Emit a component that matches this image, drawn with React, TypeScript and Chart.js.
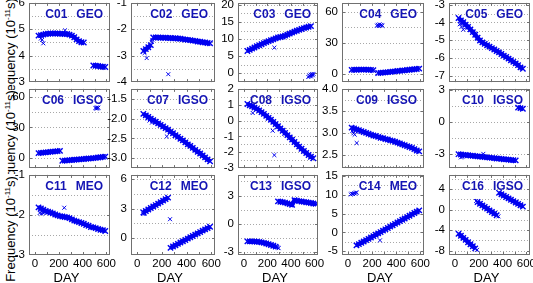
import React, { useEffect, useRef } from "react";
import { Chart, registerables } from "chart.js";
Chart.register(...registerables);

// ---------- data ----------
const DAYS = [10, 30, 50, 70, 90, 110, 130, 150,
  170, 190, 210, 230, 250, 270, 290, 310,
  330, 350, 370, 390, 410, 430, 450, 470,
  490, 510, 530, 550, 570, 590, 610, 630];

const X_TICKS = ["0", "200", "400", "600"];

const C01 = [null, 4.76, 4.78, 4.8, 4.82, 4.83, 4.84, 4.84,
  4.84, 4.84, 4.83, 4.83, 4.82, 4.82, 4.8, 4.76,
  4.7, 4.62, 4.55, 4.51, 4.5, null, null, null,
  3.63, 3.62, 3.61, 3.59, 3.58, 3.57, null, null];
const C02 = [null, null, -2.82, -2.75, -2.68, -2.6, -2.31, -2.31,
  -2.31, -2.32, -2.32, -2.32, -2.33, -2.33, -2.34, -2.34,
  -2.35, -2.36, -2.37, -2.39, -2.4, -2.41, -2.43, -2.44,
  -2.46, -2.47, -2.49, -2.5, -2.52, -2.53, null, null];
const C03 = [null, 6.5, 6.85, 7.2, 7.55, 7.9, 8.2, 8.5,
  8.8, 9.1, 9.4, 9.65, 9.9, 10.2, 10.45, 10.6,
  10.75, 11.0, 11.3, 11.6, 11.9, 12.2, 12.45, 12.7,
  12.95, 13.2, 13.4, 13.6, 13.8, null, null, null];
const C04 = [null, 4.2, 4.3, 4.3, 4.4, 4.4, 4.4, 4.4,
  4.3, 4.2, 4.0, null, 1.2, 1.4, 1.6, 1.8,
  2.0, 2.3, 2.6, 2.8, 3.1, 3.3, 3.6, 3.8,
  4.1, 4.3, 4.6, 4.8, 5.1, 5.4, null, null];
const C05 = [null, -3.75, -3.88, -3.99, -4.12, -4.25, -4.39, -4.54,
  -4.69, -4.86, -5.01, -5.12, -5.2, -5.28, -5.36, -5.44,
  -5.52, -5.6, -5.68, -5.77, -5.86, -5.94, -6.03, -6.12,
  -6.21, -6.3, -6.4, -6.52, -6.6, null, null, null];
const C06 = [null, 4.8, 5.0, 5.2, 5.5, 5.7, 6.0, 6.2,
  6.5, 6.7, 7.0, -2.8, -2.6, -2.4, -2.2, -2.0,
  -1.8, -1.6, -1.4, -1.2, -1.0, -0.8, -0.6, -0.4,
  -0.2, 0.1, 0.4, 0.7, 1.0, 1.3, null, null];
const C07 = [null, null, -1.88, -1.92, -1.96, -2.0, -2.04, -2.08,
  -2.12, -2.16, -2.2, -2.24, -2.28, -2.33, -2.37, -2.42,
  -2.46, -2.51, -2.55, -2.6, -2.65, -2.69, -2.74, -2.79,
  -2.84, -2.88, -2.93, -2.98, -3.03, -3.08, null, null];
const C08 = [null, 1.05, 0.97, 0.9, 0.82, 0.74, 0.64, 0.53,
  0.42, 0.3, 0.17, 0.05, -0.08, -0.22, -0.36, -0.5,
  -0.64, -0.78, -0.92, -1.06, -1.2, -1.35, -1.5, -1.64,
  -1.78, -1.92, -2.05, -2.17, -2.28, -2.38, null, null];
const C09 = [null, 3.12, 3.1, 3.08, 3.06, 3.04, 3.02, 3.0,
  2.98, 2.96, 2.94, 2.93, 2.91, 2.89, 2.88, 2.86,
  2.85, 2.83, 2.82, 2.8, 2.78, 2.76, 2.74, 2.72,
  2.7, 2.68, 2.66, 2.63, 2.6, 2.58, null, null];
const C10 = [null, -3.0, -3.03, -3.06, -3.08, -3.1, -3.13, -3.15,
  -3.18, -3.2, -3.22, -3.25, -3.27, -3.3, -3.32, -3.35,
  -3.37, -3.4, -3.42, -3.44, -3.47, -3.49, -3.51, -3.54,
  -3.56, -3.58, 1.35, 1.3, 1.25, null, null, null];
const C11 = [null, -1.81, -1.84, -1.87, -1.9, -1.92, -1.94, -1.96,
  -1.99, -2.01, -2.03, -2.04, -2.05, -2.06, -2.08, -2.11,
  -2.14, -2.16, -2.18, -2.2, -2.22, -2.25, -2.27, -2.3,
  -2.31, -2.33, -2.35, -2.37, -2.38, -2.4, null, null];
const C12 = [null, null, 2.6, 2.75, 2.9, 3.05, 3.2, 3.35,
  3.5, 3.65, 3.8, 3.95, 4.1, -0.98, -0.84, -0.71,
  -0.58, -0.44, -0.31, -0.18, -0.04, 0.09, 0.22, 0.36,
  0.49, 0.62, 0.76, 0.89, 1.02, 1.16, null, null];
const C13 = [null, -1.9, -1.9, -1.9, -1.91, -1.93, -1.95, -2.0,
  -2.06, -2.12, -2.2, -2.28, -2.36, -2.45, 2.38, 2.34,
  2.3, 2.24, 2.16, 2.08, 2.0, 2.5, 2.45, 2.4,
  2.36, 2.32, 2.28, 2.24, 2.2, 2.15, 2.12, null];
const C14 = [null, null, null, -3.45, -3.1, -2.75, -2.4, -2.05,
  -1.7, -1.35, -0.98, -0.62, -0.26, 0.1, 0.47, 0.83,
  1.19, 1.55, 1.91, 2.27, 2.63, 3.0, 3.36, 3.72,
  4.08, 4.44, 4.8, 5.16, 5.52, 5.88, null, null];
const C16 = [null, -4.7, -5.1, -5.5, -5.9, -6.35, -6.75, -7.15,
  -7.55, 1.5, 1.17, 0.85, 0.53, 0.2, -0.12, -0.44,
  -0.76, -1.08, 3.3, 3.03, 2.76, 2.49, 2.22, 1.95,
  1.68, 1.41, 1.14, 0.87, 0.6, null, null, null];

// scattered points (outliers / small clusters)
const C01_OD = [50, 60, 70, 252];
const C01_OV = [4.65, 4.6, 4.47, 4.96];
const C02_OD = [60, 77, 118, 122, 252];
const C02_OV = [-2.9, -3.09, -2.48, -2.4, -3.7];
const C03_OD = [259, 548, 556, 562, 568, 574, 580, 586, 592];
const C03_OV = [7.5, -1.1, -0.7, -0.9, -0.4, -0.8, -0.3, -0.6, -0.2];
const C04_OD = [240, 248, 255, 262, 270, 278, 285];
const C04_OV = [46.6, 47.4, 46.2, 47.8, 46.9, 47.3, 46.5];
const C05_OD = [40, 55, 70];
const C05_OV = [-4.1, -4.25, -4.4];
const C06_OD = [508, 514, 520, 526, 532];
const C06_OV = [49.3, 48.6, 49.8, 48.9, 49.5];
const C07_OD = [85, 100, 120, 240];
const C07_OV = [-2.0, -2.05, -2.1, -2.45];
const C08_OD = [75, 245, 259];
const C08_OV = [0.48, -0.64, -2.18];
const C09_OD = [35, 45, 55, 72];
const C09_OV = [3.04, 2.99, 2.96, 2.77];
const C10_OD = [50, 62, 238];
const C10_OV = [-3.3, -3.25, -2.97];
const C11_OD = [40, 55, 70, 246];
const C11_OV = [-1.95, -1.97, -1.95, -1.82];
const C12_OD = [50, 62, 266];
const C12_OV = [2.45, 2.5, 1.92];
const C13_OD = [280, 288, 295];
const C13_OV = [-2.5, -2.56, -2.62];
const C14_OD = [22, 32, 42, 52, 62, 72, 265];
const C14_OV = [10.1, 10.3, 10.2, 10.4, 10.5, 10.6, -2.1];
const C16_OD = [178, 185, 365];
const C16_OV = [1.7, -7.85, -1.3];

// y tick labels
const C01_Y = ["3", "4", "5", "6"];
const C02_Y = ["-4", "-3", "-2", "-1"];
const C03_Y = ["0", "5", "10", "15", "20"];
const C04_Y = ["0", "30", "60"];
const C05_Y = ["-7", "-6", "-5", "-4", "-3"];
const C06_Y = ["0", "30", "60"];
const C07_Y = ["-3.0", "-2.5", "-2.0", "-1.5"];
const C08_Y = ["-3", "-2", "-1", "0", "1", "2"];
const C09_Y = ["2.5", "3.0", "3.5", "4.0"];
const C10_Y = ["-3", "0", "3"];
const C11_Y = ["-3", "-2", "-1"];
const C12_Y = ["0", "3", "6"];
const C13_Y = ["-3", "0", "3"];
const C14_Y = ["-5", "0", "5", "10", "15"];
const C16_Y = ["-8", "-4", "0", "4"];

// ---------- layout / style ----------
type PanelDef = {
  name: string; kind: string; vals: (number | null)[];
  od: number[]; ov: number[]; yMin: number; yMax: number; yl: string[]; grid: number;
};

const PANELS: PanelDef[] = [
  { name: "C01", kind: "GEO", vals: C01, od: C01_OD, ov: C01_OV, yMin: 3, yMax: 6, yl: C01_Y, grid: 0.5 },
  { name: "C02", kind: "GEO", vals: C02, od: C02_OD, ov: C02_OV, yMin: -4, yMax: -1, yl: C02_Y, grid: 0.5 },
  { name: "C03", kind: "GEO", vals: C03, od: C03_OD, ov: C03_OV, yMin: -2.6, yMax: 20.6, yl: C03_Y, grid: 2.5 },
  { name: "C04", kind: "GEO", vals: C04, od: C04_OD, ov: C04_OV, yMin: -7.5, yMax: 68.4, yl: C04_Y, grid: 15 },
  { name: "C05", kind: "GEO", vals: C05, od: C05_OD, ov: C05_OV, yMin: -7.35, yMax: -2.9, yl: C05_Y, grid: 0.5 },
  { name: "C06", kind: "IGSO", vals: C06, od: C06_OD, ov: C06_OV, yMin: -10, yMax: 68, yl: C06_Y, grid: 15 },
  { name: "C07", kind: "IGSO", vals: C07, od: C07_OD, ov: C07_OV, yMin: -3.25, yMax: -1.25, yl: C07_Y, grid: 0.25 },
  { name: "C08", kind: "IGSO", vals: C08, od: C08_OD, ov: C08_OV, yMin: -3, yMax: 2, yl: C08_Y, grid: 0.5 },
  { name: "C09", kind: "IGSO", vals: C09, od: C09_OD, ov: C09_OV, yMin: 2.2, yMax: 4.0, yl: C09_Y, grid: 0.25 },
  { name: "C10", kind: "IGSO", vals: C10, od: C10_OD, ov: C10_OV, yMin: -4.3, yMax: 3.1, yl: C10_Y, grid: 1.5 },
  { name: "C11", kind: "MEO", vals: C11, od: C11_OD, ov: C11_OV, yMin: -3, yMax: -1, yl: C11_Y, grid: 0.5 },
  { name: "C12", kind: "MEO", vals: C12, od: C12_OD, ov: C12_OV, yMin: -1.7, yMax: 6.4, yl: C12_Y, grid: 1.5 },
  { name: "C13", kind: "IGSO", vals: C13, od: C13_OD, ov: C13_OV, yMin: -3.35, yMax: 5.2, yl: C13_Y, grid: 1.5 },
  { name: "C14", kind: "MEO", vals: C14, od: C14_OD, ov: C14_OV, yMin: -6, yMax: 15.3, yl: C14_Y, grid: 2.5 },
  { name: "C16", kind: "IGSO", vals: C16, od: C16_OD, ov: C16_OV, yMin: -8.85, yMax: 6.8, yl: C16_Y, grid: 2 },
];

const X_MIN = -50;
const X_MAX = 630;
const COL_LEFT = [29, 131, 238, 342, 449];
const COL_W = [81, 84, 80, 82, 81];
const ROW_TOP = [2, 88, 174];
const ROW_H = 81;
const BLUE = "#0000f0";
const TITLE_BLUE = "#1414b4";
const FONT = '"Liberation Sans", Arial, Helvetica, sans-serif';

function Panel({ p, idx }: { p: PanelDef; idx: number }) {
  const ref = useRef<HTMLCanvasElement | null>(null);
  const row = Math.floor(idx / 5);
  const col = idx % 5;
  const L = COL_LEFT[col], W = COL_W[col], T = ROW_TOP[row], H = ROW_H;
  const AXW = 32, PT = 10, PR = 10;
  const XH = row === 2 ? 22 : 10;
  const cw = AXW + W + PR;
  const chh = PT + H + XH;

  useEffect(() => {
    const yVals = p.yl.map(Number);
    const xVals = X_TICKS.map(Number);
    const deco = {
      id: "deco" + idx,
      beforeDatasetsDraw(chart: any) {
        const { ctx, chartArea: a, scales } = chart;
        const y = scales.y;
        ctx.save();
        ctx.strokeStyle = "#a8a8a8";
        ctx.lineWidth = 1;
        ctx.setLineDash([1, 2]);
        const k0 = Math.ceil(p.yMin / p.grid - 1e-9);
        const k1 = Math.floor(p.yMax / p.grid + 1e-9);
        for (let k = k0; k <= k1; k++) {
          const py = Math.round(y.getPixelForValue(k * p.grid)) + 0.5;
          if (py <= a.top + 1.5 || py >= a.bottom - 1.5) continue;
          ctx.beginPath();
          ctx.moveTo(a.left, py);
          ctx.lineTo(a.right, py);
          ctx.stroke();
        }
        ctx.restore();
      },
      afterDatasetsDraw(chart: any) {
        const { ctx, chartArea: a, scales } = chart;
        const x = scales.x, y = scales.y;
        ctx.save();
        ctx.strokeStyle = "#707070";
        ctx.lineWidth = 1;
        ctx.setLineDash([]);
        for (let d = 0; d <= 600; d += 100) {
          const px = Math.round(x.getPixelForValue(d)) + 0.5;
          ctx.beginPath();
          ctx.moveTo(px, a.bottom); ctx.lineTo(px, a.bottom - 3);
          ctx.moveTo(px, a.top); ctx.lineTo(px, a.top + 3);
          ctx.stroke();
        }
        yVals.forEach((v) => {
          const py = Math.round(y.getPixelForValue(v)) + 0.5;
          if (py < a.top || py > a.bottom) return;
          ctx.beginPath();
          ctx.moveTo(a.left, py); ctx.lineTo(a.left + 3, py);
          ctx.moveTo(a.right, py); ctx.lineTo(a.right - 3, py);
          ctx.stroke();
        });
        ctx.strokeRect(Math.round(a.left) + 0.5, Math.round(a.top) + 0.5,
          Math.round(a.right - a.left) - 1, Math.round(a.bottom - a.top) - 1);
        ctx.font = "bold 12px " + FONT;
        ctx.fillStyle = TITLE_BLUE;
        ctx.textBaseline = "middle";
        ctx.textAlign = "right";
        const ty = a.top + 11.5;
        const kr = a.right - 7;
        ctx.fillText(p.kind, kr, ty);
        const kw = ctx.measureText(p.kind).width;
        ctx.fillText(p.name, kr - kw - 9, ty);
        ctx.restore();
      },
    };

    const chart = new Chart(ref.current as HTMLCanvasElement, {
      type: "line",
      data: {
        datasets: [
          {
            data: DAYS.map((d, i) => ({ x: d, y: p.vals[i] })) as any,
            borderColor: BLUE,
            borderWidth: 4.5,
            pointStyle: "crossRot",
            pointRadius: 3.8,
            pointBorderWidth: 1.4,
            pointBorderColor: BLUE,
            pointBackgroundColor: BLUE,
            spanGaps: false,
            tension: 0,
            segment: {
              borderColor: (c: any) =>
                Math.abs(c.p1.y - c.p0.y) > 6 ? "rgba(0,0,0,0)" : BLUE,
            },
          },
          {
            data: p.od.map((d, i) => ({ x: d, y: p.ov[i] })) as any,
            showLine: false,
            pointStyle: "crossRot",
            pointRadius: 2.8,
            pointBorderWidth: 1,
            pointBorderColor: BLUE,
            pointBackgroundColor: BLUE,
          },
        ],
      },
      options: {
        animation: false,
        responsive: false,
        maintainAspectRatio: false,
        events: [],
        layout: { padding: { top: PT, right: PR, left: 0, bottom: 0 } },
        plugins: { legend: { display: false }, tooltip: { enabled: false } },
        scales: {
          x: {
            type: "linear",
            min: X_MIN,
            max: X_MAX,
            bounds: "data",
            grid: { display: false, drawTicks: false },
            border: { display: false },
            ticks: {
              display: row === 2,
              autoSkip: false,
              maxRotation: 0,
              padding: 2,
              color: "#000",
              font: { family: FONT, size: 11.5 },
              callback: (_v: any, i: number) => X_TICKS[i],
            },
            afterBuildTicks: (s: any) => { s.ticks = xVals.map((v) => ({ value: v })); },
            afterFit: (s: any) => { s.height = XH; },
          },
          y: {
            type: "linear",
            min: p.yMin,
            max: p.yMax,
            bounds: "data",
            grid: { display: false, drawTicks: false },
            border: { display: false },
            ticks: {
              autoSkip: false,
              padding: 4,
              color: "#000",
              font: { family: FONT, size: 11.5 },
              callback: (_v: any, i: number) => p.yl[i],
            },
            afterBuildTicks: (s: any) => { s.ticks = yVals.map((v) => ({ value: v })); },
            afterFit: (s: any) => { s.width = AXW; },
          },
        },
      } as any,
      plugins: [deco as any],
    });
    return () => chart.destroy();
  }, []);

  return (
    <div style={{ position: "absolute", left: L - AXW, top: T - PT, width: cw, height: chh }}>
      <canvas ref={ref} width={cw} height={chh} style={{ width: cw, height: chh, display: "block" }} />
    </div>
  );
}

// y-axis title bands: [top, bottom, centre]
const Y_LABEL_BANDS = [[0, 90, 51], [90, 174, 143], [174, 283, 229]];

export default function App() {
  return (
    <div style={{ position: "fixed", left: 0, top: 0, width: 533, height: 283, background: "#fff", overflow: "hidden", fontFamily: FONT }}>
      {Y_LABEL_BANDS.map(([t, b, cy], r) => (
        <div key={"yb" + r} style={{ position: "absolute", left: 0, top: t, width: 18, height: b - t, overflow: "hidden" }}>
          <div style={{
            position: "absolute", left: 9, top: cy - t, whiteSpace: "nowrap", fontSize: 13, lineHeight: "14px",
            color: "#000", transform: "translate(-50%,-50%) rotate(-90deg)",
          }}>
            Frequency (10<sup style={{ fontSize: 8, verticalAlign: "5px" }}>-11</sup>s)
          </div>
        </div>
      ))}
      {PANELS.map((p, i) => <Panel key={p.name} p={p} idx={i} />)}
      {COL_LEFT.map((l, c) => (
        <div key={"dx" + c} style={{
          position: "absolute", left: l + COL_W[c] / 2 - 3, top: 277, fontSize: 13, color: "#000",
          transform: "translate(-50%,-50%)", whiteSpace: "nowrap",
        }}>DAY</div>
      ))}
    </div>
  );
}
